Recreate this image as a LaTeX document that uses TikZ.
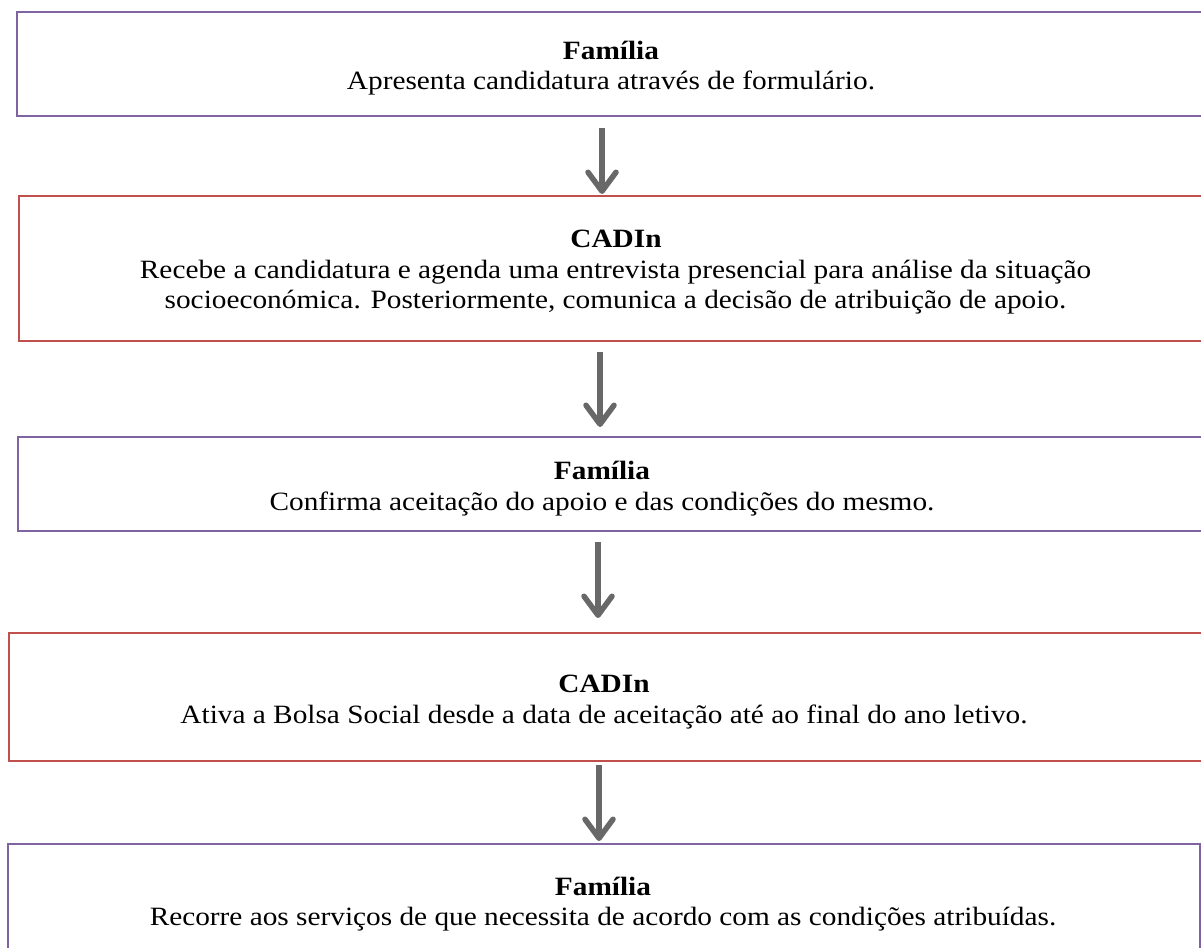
\documentclass[tikz,border=0pt]{standalone}
\usepackage{fontspec}
\setmainfont{Liberation Serif}[FakeStretch=1.11]
\usetikzlibrary{arrows.meta}
\definecolor{boxpurple}{HTML}{8064A2}
\definecolor{boxred}{HTML}{C0504D}
\definecolor{arrowgray}{HTML}{686868}
\tikzset{
  pbox/.style={draw=boxpurple, line width=2bp, fill=none},
  rbox/.style={draw=boxred, line width=2bp, fill=none},
  head/.style={anchor=base, inner sep=0pt, font=\fontsize{26.5}{30}\selectfont\bfseries},
  body/.style={anchor=base, inner sep=0pt, font=\fontsize{26.5}{30}\selectfont},
  flow/.style={draw=arrowgray, line width=5.5bp,
    -{Straight Barb[length=19bp, width=28bp, line width=5.5bp, round]}}
}
\begin{document}
\begin{tikzpicture}[x=1bp, y=-1bp]
\useasboundingbox (0,0) rectangle (1201,948);
\fill[white] (0,0) rectangle (1201,948);
\clip (0,0) rectangle (1201,948);
% boxes
\draw[pbox] (17,12) rectangle (1212,116);
\node[inner sep=0pt] (b1) at (614.5,64) {};
\draw[rbox] (19,196) rectangle (1212,341);
\node[inner sep=0pt] (b2) at (615.5,268.5) {};
\draw[pbox] (18,437) rectangle (1212,531);
\node[inner sep=0pt] (b3) at (615,484) {};
\draw[rbox] (9,633) rectangle (1212,761);
\node[inner sep=0pt] (b4) at (610.5,697) {};
\draw[pbox] (8,844) rectangle (1200,990);
\node[inner sep=0pt] (b5) at (604,917) {};
% texts
\node[head] (h1) at (611,59) {Família};
\node[body] (l1) at (611,89.5) {Apresenta candidatura através de formulário.};
\node[head] (h2) at (616,247.5) {CADIn};
\node[body] (l2a) at (615.5,278) {Recebe a candidatura e agenda uma entrevista presencial para análise da situação};
\node[body] (l2b) at (615.5,308.5) {socioeconómica. Posteriormente, comunica a decisão de atribuição de apoio.};
\node[head] (h3) at (602,479.5) {Família};
\node[body] (l3) at (602,510) {Confirma aceitação do apoio e das condições do mesmo.};
\node[head] (h4) at (604,692.5) {CADIn};
\node[body] (l4) at (604,723) {Ativa a Bolsa Social desde a data de aceitação até ao final do ano letivo.};
\node[head] (h5) at (603,895) {Família};
\node[body] (l5) at (603,925.5) {Recorre aos serviços de que necessita de acordo com as condições atribuídas.};
% arrow end points
\coordinate (a1s) at (602,128); \coordinate (a1e) at (602,194);
\coordinate (a2s) at (600,352); \coordinate (a2e) at (600,427);
\coordinate (a3s) at (598,542); \coordinate (a3e) at (598,618);
\coordinate (a4s) at (599,765); \coordinate (a4e) at (599,841);
\draw[flow] (a1s) -- (a1e);
\draw[flow] (a2s) -- (a2e);
\draw[flow] (a3s) -- (a3e);
\draw[flow] (a4s) -- (a4e);
\end{tikzpicture}
\end{document}
